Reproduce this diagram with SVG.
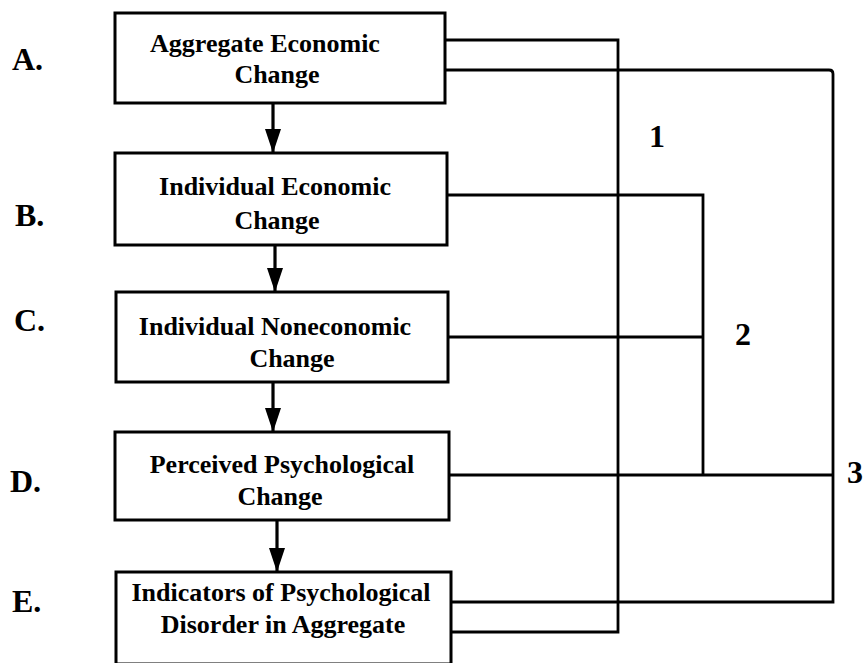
<svg xmlns="http://www.w3.org/2000/svg" width="866" height="663" viewBox="0 0 866 663">
<style>
.box{fill:#fff;stroke:#000;stroke-width:3}
.t{font-family:"Liberation Serif","Times New Roman",serif;font-weight:bold;font-size:26px;fill:#000;text-anchor:middle}
.lab{font-family:"Liberation Serif","Times New Roman",serif;font-weight:bold;font-size:32px;fill:#000}
.conn{fill:none;stroke:#000;stroke-width:2.8;stroke-linejoin:miter}
.arr{stroke:#000;stroke-width:3.2}
</style>
<defs>
<marker id="ah" viewBox="0 0 24 16" refX="24" refY="8" markerWidth="24" markerHeight="16" markerUnits="userSpaceOnUse" orient="auto">
<path d="M0,0 L24,8 L0,16 z" fill="#000"/>
</marker>
</defs>
<rect width="866" height="663" fill="#fff"/>
<g id="row-labels">
<text class="lab" x="12" y="70">A.</text>
<text class="lab" x="15" y="226">B.</text>
<text class="lab" x="14" y="331">C.</text>
<text class="lab" x="10" y="492">D.</text>
<text class="lab" x="12" y="612">E.</text>
</g>
<g id="connectors">
<line class="arr" x1="273" y1="103" x2="273" y2="153" marker-end="url(#ah)"/>
<line class="arr" x1="275" y1="245" x2="275" y2="292" marker-end="url(#ah)"/>
<line class="arr" x1="273" y1="382" x2="273" y2="432" marker-end="url(#ah)"/>
<line class="arr" x1="277" y1="520" x2="277" y2="572" marker-end="url(#ah)"/>
<path class="conn" d="M445,40 H618 V632 H451"/>
<path class="conn" d="M445,70 H829 Q833,70 833,74 V602 H451"/>
<path class="conn" d="M447,195 H703 V475"/>
<path class="conn" d="M448,337 H703"/>
<path class="conn" d="M449,475 H833"/>
</g>
<g id="nodeA">
<rect class="box" x="115" y="13" width="330" height="90"/>
<text class="t" x="265" y="52">Aggregate Economic</text>
<text class="t" x="277" y="83">Change</text>
</g>
<g id="nodeB">
<rect class="box" x="115" y="153" width="332" height="92"/>
<text class="t" x="275" y="195">Individual Economic</text>
<text class="t" x="277" y="229">Change</text>
</g>
<g id="nodeC">
<rect class="box" x="116" y="292" width="332" height="90"/>
<text class="t" x="275" y="335">Individual Noneconomic</text>
<text class="t" x="292" y="367">Change</text>
</g>
<g id="nodeD">
<rect class="box" x="115" y="432" width="334" height="88"/>
<text class="t" x="282" y="473">Perceived Psychological</text>
<text class="t" x="280" y="505">Change</text>
</g>
<g id="nodeE">
<rect class="box" x="116" y="572" width="335" height="92"/>
<text class="t" x="281" y="601">Indicators of Psychological</text>
<text class="t" x="283" y="633">Disorder in Aggregate</text>
</g>
<g id="path-labels">
<text class="lab" x="649" y="147">1</text>
<text class="lab" x="735" y="345">2</text>
<text class="lab" x="847" y="483">3</text>
</g>
</svg>
